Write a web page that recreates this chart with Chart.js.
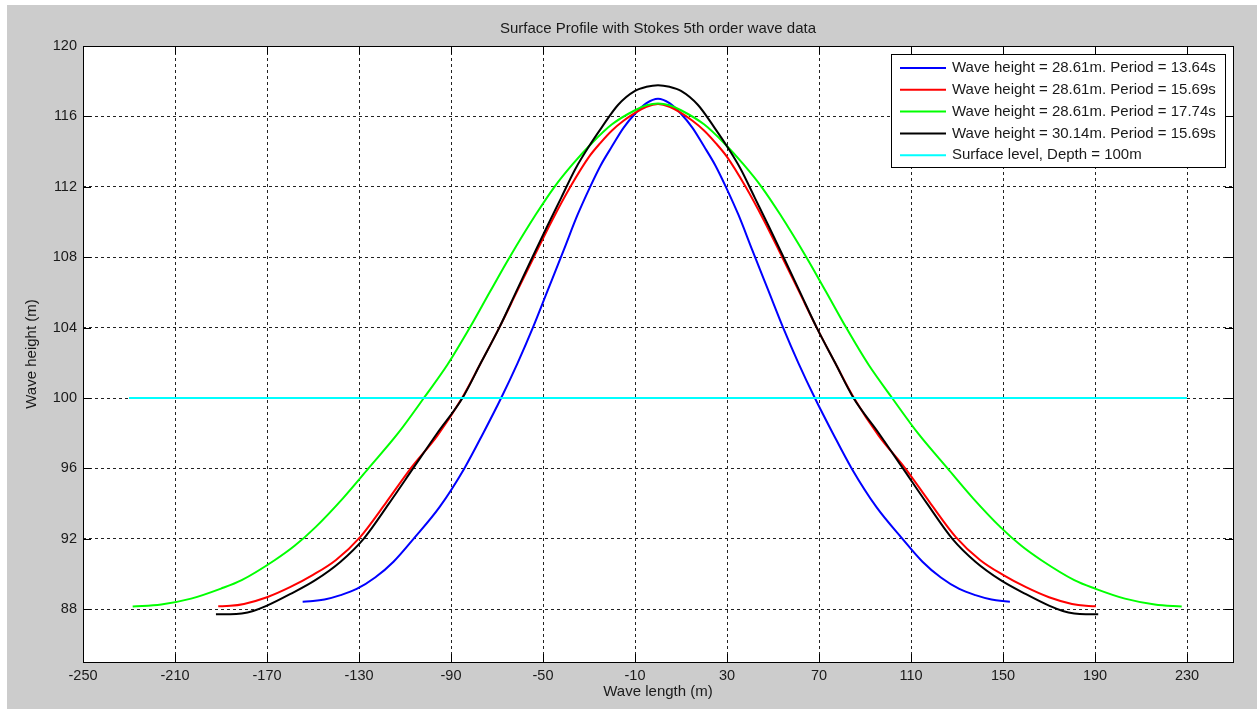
<!DOCTYPE html>
<html>
<head>
<meta charset="utf-8">
<script src="https://cdn.jsdelivr.net/npm/chart.js@4.4.1/dist/chart.umd.min.js"></script>
<style>
  html, body { margin: 0; padding: 0; background: #fff; }
  #wrap { position: absolute; left: 0; top: 0; width: 1257px; height: 709px; }
  #bg { position: absolute; left: 7px; top: 5px; right: 0; bottom: 0; background: #cccccc; }
  canvas { position: absolute; left: 0; top: 0; }
</style>
</head>
<body>
<div id="wrap">
  <div id="bg"></div>
  <canvas id="waveChart" width="1257" height="709"></canvas>
</div>
<script>
// Tick labels
const xTicks = [-250, -210, -170, -130, -90, -50, -10, 30, 70, 110, 150, 190, 230];
const yTicks = [88, 92, 96, 100, 104, 108, 112, 116, 120];

// Series (x = wave length m, y = wave height m)
const blueX = [-154.5, -150, -145, -138, -131, -123, -115, -106.3, -95, -84.2, -76, -68.2, -61, -54.4, -48, -41, -35, -29.5, -25, -20, -15, -10, -5,
    0,
    5, 10, 15, 20, 25, 29.5, 35, 41, 48, 54.4, 61, 68.2, 76, 84.2, 95, 106.3, 115, 123, 131, 138, 145, 150, 153];
const blueY = [88.43, 88.46, 88.55, 88.8, 89.15, 89.8, 90.7, 92, 93.8, 96, 98, 100, 102, 104, 106.1, 108.4, 110.4, 112, 113.2, 114.3, 115.35, 116.15, 116.75,
    117.0,
    116.75, 116.15, 115.35, 114.3, 113.2, 112, 110.4, 108.4, 106.1, 104, 102, 100, 98, 96, 93.8, 92, 90.7, 89.8, 89.15, 88.8, 88.55, 88.46, 88.43];

const redX = [-191.2, -186, -180, -170, -160, -150, -140, -129.5, -118, -107.5, -96, -85.2, -77, -69, -61.5, -54, -46, -38.1, -30, -25, -20, -15, -10, -5,
    0,
    5, 10, 15, 20, 25, 30, 38.1, 46, 54, 61.5, 69, 77, 85.2, 96, 107.5, 118, 129.5, 140, 150, 160, 170, 180, 186, 190.4];
const redY = [88.17, 88.19, 88.3, 88.68, 89.25, 89.95, 90.8, 92.1, 94.1, 96, 97.85, 100, 102, 104, 106, 108, 110.1, 112, 113.7, 114.5, 115.2, 115.75, 116.2, 116.55,
    116.7,
    116.55, 116.2, 115.75, 115.2, 114.5, 113.7, 112, 110.1, 108, 106, 104, 102, 100, 97.85, 96, 94.1, 92.1, 90.8, 89.95, 89.25, 88.68, 88.3, 88.19, 88.17];

const greenX = [-228.4, -216, -203, -190, -181, -166.7, -158, -149, -137, -125.9, -113, -101.8, -91.5, -81.8, -73, -64.5, -53, -45, -37, -29, -20, -10, -5,
    0,
    5, 10, 20, 29, 37, 45, 53, 64.5, 73, 81.8, 91.5, 101.8, 113, 125.9, 137, 149, 158, 166.7, 181, 190, 203, 216, 227.7];
const greenY = [88.15, 88.27, 88.6, 89.17, 89.65, 90.78, 91.6, 92.65, 94.3, 96, 98.0, 100, 101.9, 104, 106.05, 108, 110.45, 112, 113.3, 114.45, 115.55, 116.35, 116.63,
    116.73,
    116.63, 116.35, 115.55, 114.45, 113.3, 112, 110.45, 108, 106.05, 104, 101.9, 100, 98.0, 96, 94.3, 92.65, 91.6, 90.78, 89.65, 89.17, 88.6, 88.27, 88.15];

const blackX = [-192.2, -186, -181, -176, -170, -160, -149, -138, -128, -117, -106.5, -96, -85, -77, -69, -61.8, -54.6, -48, -42, -36, -30, -24.6, -17.4, -10, -5,
    0,
    5, 10, 17.4, 24.6, 30, 36, 42, 48, 54.6, 61.8, 69, 77, 85, 96, 106.5, 117, 128, 138, 149, 160, 170, 176, 181, 186, 191.4];
const blackY = [87.72, 87.72, 87.76, 87.9, 88.2, 88.85, 89.65, 90.7, 92.0, 94.0, 96, 98.0, 100, 102, 104, 106, 108, 109.8, 111.4, 113.0, 114.3, 115.35, 116.65, 117.45, 117.68,
    117.77,
    117.68, 117.45, 116.65, 115.35, 114.3, 113.0, 111.4, 109.8, 108, 106, 104, 102, 100, 98.0, 96, 94.0, 92.0, 90.7, 89.65, 88.85, 88.2, 87.9, 87.76, 87.72, 87.72];

const surfaceX = [-230, 230];
const surfaceY = [100, 100];

const seriesLabels = [
    'Wave height = 28.61m. Period = 13.64s',
    'Wave height = 28.61m. Period = 15.69s',
    'Wave height = 28.61m. Period = 17.74s',
    'Wave height = 30.14m. Period = 15.69s',
    'Surface level, Depth = 100m'
];
const seriesColors = ['#0000ff', '#ff0000', '#00ff00', '#000000', '#00ffff'];

const toPoints = (xs, ys) => xs.map((x, i) => ({ x: x, y: ys[i] }));

const FONT = "'Liberation Sans', Arial, sans-serif";
const TEXT = '#1a1a1a';

// Plot box, inward ticks on all sides, title and legend
const matlabFrame = {
    id: 'matlabFrame',
    beforeDraw(chart) {
        const { ctx, chartArea: a } = chart;
        ctx.save();
        ctx.fillStyle = '#ffffff';
        ctx.fillRect(a.left, a.top, a.right - a.left, a.bottom - a.top);
        ctx.restore();
    },
    afterDatasetsDraw(chart) {
        const { ctx, chartArea: a, scales } = chart;
        ctx.save();
        ctx.strokeStyle = '#000';
        ctx.lineWidth = 1;
        ctx.setLineDash([]);
        ctx.strokeRect(a.left + 0.5, a.top + 0.5, a.right - a.left, a.bottom - a.top);
        const len = 8;
        ctx.beginPath();
        xTicks.forEach(v => {
            const px = Math.round(scales.x.getPixelForValue(v)) + 0.5;
            ctx.moveTo(px, a.bottom); ctx.lineTo(px, a.bottom - len);
            ctx.moveTo(px, a.top); ctx.lineTo(px, a.top + len);
        });
        yTicks.forEach(v => {
            const py = Math.round(scales.y.getPixelForValue(v)) + 0.5;
            ctx.moveTo(a.left, py); ctx.lineTo(a.left + len, py);
            ctx.moveTo(a.right, py); ctx.lineTo(a.right - len, py);
        });
        ctx.stroke();

        // title
        ctx.fillStyle = TEXT;
        ctx.font = '15px ' + FONT;
        ctx.textAlign = 'center';
        ctx.textBaseline = 'middle';
        ctx.fillText('Surface Profile with Stokes 5th order wave data', (a.left + a.right) / 2, 29);

        // legend
        const lx = 891, ly = 54, lw = 334, lh = 113;
        ctx.fillStyle = '#fff';
        ctx.fillRect(lx, ly, lw, lh);
        ctx.strokeStyle = '#000';
        ctx.strokeRect(lx + 0.5, ly + 0.5, lw, lh);
        ctx.font = '15px ' + FONT;
        ctx.textAlign = 'left';
        seriesLabels.forEach((label, i) => {
            const y = 68 + i * 21.8;
            ctx.strokeStyle = seriesColors[i];
            ctx.lineWidth = 2;
            ctx.beginPath();
            ctx.moveTo(900, y); ctx.lineTo(946, y);
            ctx.stroke();
            ctx.fillStyle = TEXT;
            ctx.fillText(label, 952, y);
        });
        ctx.restore();
    }
};

const makeSet = (i, xs, ys, order) => ({
    label: seriesLabels[i],
    data: toPoints(xs, ys),
    borderColor: seriesColors[i],
    backgroundColor: seriesColors[i],
    borderWidth: 2,
    pointRadius: 0,
    showLine: true,
    fill: false,
    cubicInterpolationMode: 'monotone',
    order: order
});

new Chart(document.getElementById('waveChart').getContext('2d'), {
    type: 'scatter',
    data: {
        datasets: [
            makeSet(0, blueX, blueY, 4),
            makeSet(1, redX, redY, 3),
            makeSet(2, greenX, greenY, 2),
            makeSet(3, blackX, blackY, 1),
            makeSet(4, surfaceX, surfaceY, 0)
        ]
    },
    options: {
        responsive: false,
        animation: false,
        layout: { padding: { left: 0, right: 24, top: 46, bottom: 0 } },
        plugins: {
            legend: { display: false },
            tooltip: { enabled: false },
            title: { display: false }
        },
        scales: {
            x: {
                type: 'linear',
                min: -250,
                max: 250,
                afterBuildTicks: s => { s.ticks = xTicks.map(v => ({ value: v })); },
                afterFit: s => { s.height = 47; },
                ticks: { color: TEXT, font: { family: FONT, size: 14.5 }, padding: 5, maxRotation: 0, autoSkip: false },
                grid: { color: '#222', lineWidth: 1, drawTicks: false },
                border: { display: false, dash: [3, 3] },
                title: { display: true, text: 'Wave length (m)', color: TEXT, font: { family: FONT, size: 15 }, padding: { top: 0, bottom: 8 } }
            },
            y: {
                type: 'linear',
                min: 85,
                max: 120,
                afterBuildTicks: s => { s.ticks = yTicks.map(v => ({ value: v })); },
                afterFit: s => { s.width = 83; },
                ticks: { color: TEXT, font: { family: FONT, size: 14.5 }, padding: 6, autoSkip: false },
                grid: { color: '#222', lineWidth: 1, drawTicks: false },
                border: { display: false, dash: [3, 3] },
                title: { display: true, text: 'Wave height (m)', color: TEXT, font: { family: FONT, size: 15 }, padding: { top: 23, bottom: 0 } }
            }
        }
    },
    plugins: [matlabFrame]
});
</script>
</body>
</html>
